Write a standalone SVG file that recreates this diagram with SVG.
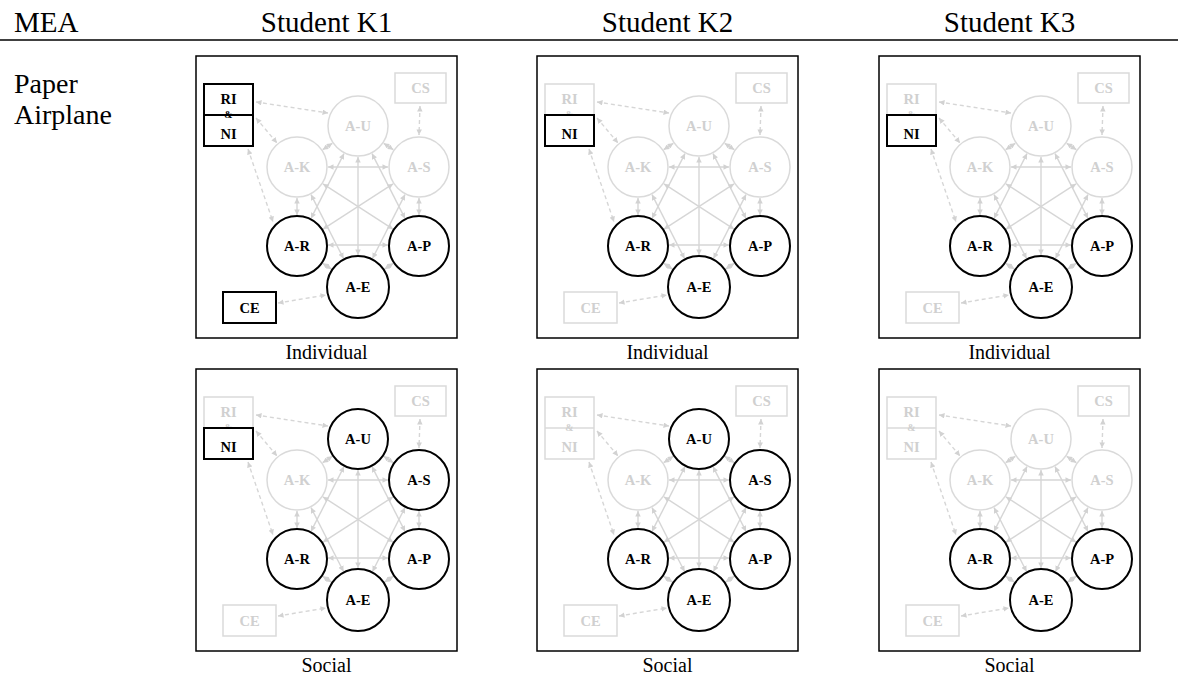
<svg xmlns="http://www.w3.org/2000/svg" xmlns:xlink="http://www.w3.org/1999/xlink" width="1178" height="680" viewBox="0 0 1178 680">
  <style>
    .hdr { font-family: "Liberation Serif", "Times New Roman", serif; font-size: 29px; fill: #000; }
    .row { font-family: "Liberation Serif", "Times New Roman", serif; font-size: 28px; fill: #000; }
    .cap { font-family: "Liberation Serif", "Times New Roman", serif; font-size: 20px; fill: #000; text-anchor: middle; }
    .frame { fill: #fff; stroke: #000; stroke-width: 1.5; }
    .lk { fill: none; stroke: #d6d6d6; stroke-width: 1.4; marker-start: url(#ah); marker-end: url(#ah); }
    .dash { stroke-dasharray: 4 3; }
    .off circle, .off rect { fill: #fff; stroke: #dadada; stroke-width: 1.5; }
    .off line { stroke: #dadada; stroke-width: 1.5; }
    .on circle, .on rect { fill: #fff; stroke: #000; stroke-width: 2; }
    .on line { stroke: #000; stroke-width: 2; }
    text.n { font-family: "Liberation Serif", "Times New Roman", serif; font-weight: bold; font-size: 14.5px; text-anchor: middle; }
    text.amp { font-size: 10px; }
    .off text { fill: #d0d0d0; }
    .on text { fill: #000; }
  </style>
  <defs>
    <marker id="ah" viewBox="0 0 10 10" refX="10" refY="5" markerWidth="6" markerHeight="5.5" markerUnits="userSpaceOnUse" orient="auto-start-reverse">
      <path d="M0,0 L10,5 L0,10 z" fill="#d2d2d2"/>
    </marker>
    <!-- shared link network of one panel (panel-local coordinates) -->
    <g id="links">
      <line class="lk" x1="136.3" y1="87.3" x2="126.7" y2="93.7"/>
      <line class="lk" x1="187.7" y1="87.3" x2="197.3" y2="93.7"/>
      <line class="lk" x1="101" y1="142" x2="101" y2="159"/>
      <line class="lk" x1="223" y1="142" x2="223" y2="159"/>
      <line class="lk" x1="126.7" y1="207.3" x2="135.4" y2="213.1"/>
      <line class="lk" x1="197.3" y1="207.3" x2="188.6" y2="213.1"/>
      <line class="lk" x1="132" y1="111" x2="192" y2="111"/>
      <line class="lk" x1="132" y1="189" x2="192" y2="189"/>
      <line class="lk" x1="162" y1="101" x2="162" y2="199"/>
      <line class="lk" x1="148" y1="97.6" x2="115" y2="162.4"/>
      <line class="lk" x1="176" y1="97.6" x2="209" y2="162.4"/>
      <line class="lk" x1="115" y1="138.6" x2="147.5" y2="202.5"/>
      <line class="lk" x1="209" y1="138.6" x2="176.5" y2="202.5"/>
      <line class="lk" x1="127" y1="127.9" x2="197" y2="173.1"/>
      <line class="lk" x1="197" y1="127.9" x2="127" y2="173.1"/>
      <line class="lk dash" x1="60" y1="46" x2="132" y2="57"/>
      <line class="lk dash" x1="60" y1="62" x2="81" y2="87"/>
      <line class="lk dash" x1="52" y1="93" x2="77" y2="166"/>
      <line class="lk dash" x1="82" y1="247" x2="130" y2="239"/>
      <line class="lk dash" x1="224" y1="50" x2="223" y2="79"/>
    </g>
  </defs>

  <!-- table header -->
  <text class="hdr" x="14" y="32">MEA</text>
  <text class="hdr" x="326.5" y="32" text-anchor="middle">Student K1</text>
  <text class="hdr" x="667.5" y="32" text-anchor="middle">Student K2</text>
  <text class="hdr" x="1009.5" y="32" text-anchor="middle">Student K3</text>
  <line x1="0" y1="40" x2="1178" y2="40" stroke="#000" stroke-width="1.6"/>
  <text class="row" x="14" y="93">Paper</text>
  <text class="row" x="14" y="124">Airplane</text>

  <!-- captions -->
  <text class="cap" x="326.5" y="359">Individual</text>
  <text class="cap" x="667.5" y="359">Individual</text>
  <text class="cap" x="1009.5" y="359">Individual</text>
  <text class="cap" x="326.5" y="672">Social</text>
  <text class="cap" x="667.5" y="672">Social</text>
  <text class="cap" x="1009.5" y="672">Social</text>

  <!-- K1 individual -->
  <g id="k1-ind" transform="translate(196,56)">
    <rect class="frame" x="0" y="0" width="261" height="282"/>
    <g id="k1-ind-links"><use xlink:href="#links"/></g>
    <g id="k1-ind-rini" class="on"><rect x="8" y="28" width="49" height="62"/><line x1="8" y1="59" x2="57" y2="59"/><text class="n" x="32.5" y="48">RI</text><text class="n amp" x="32.5" y="62">&amp;</text><text class="n" x="32.5" y="83">NI</text></g>
    <g id="k1-ind-cs" class="off"><rect x="199" y="17" width="51" height="30"/><text class="n" x="224.5" y="37">CS</text></g>
    <g id="k1-ind-ce" class="on"><rect x="27" y="236" width="53" height="31"/><text class="n" x="53.5" y="256.5">CE</text></g>
    <g id="k1-ind-au" class="off"><circle cx="162" cy="70" r="30"/><text class="n" x="162" y="75">A-U</text></g>
    <g id="k1-ind-ak" class="off"><circle cx="101" cy="111" r="30"/><text class="n" x="101" y="116">A-K</text></g>
    <g id="k1-ind-as" class="off"><circle cx="223" cy="111" r="30"/><text class="n" x="223" y="116">A-S</text></g>
    <g id="k1-ind-ar" class="on"><circle cx="101" cy="190" r="30"/><text class="n" x="101" y="195">A-R</text></g>
    <g id="k1-ind-ap" class="on"><circle cx="223" cy="190" r="30"/><text class="n" x="223" y="195">A-P</text></g>
    <g id="k1-ind-ae" class="on"><circle cx="162" cy="231" r="31"/><text class="n" x="162" y="236">A-E</text></g>
  </g>

  <!-- K2 individual -->
  <g id="k2-ind" transform="translate(537,56)">
    <rect class="frame" x="0" y="0" width="261" height="282"/>
    <g id="k2-ind-links"><use xlink:href="#links"/></g>
    <g id="k2-ind-ri" class="off"><rect x="8" y="28" width="49" height="31"/><text class="n" x="32.5" y="48">RI</text><text class="n amp" x="32.5" y="62">&amp;</text></g>
    <g id="k2-ind-ni" class="on"><rect x="8" y="59" width="49" height="31"/><text class="n" x="32.5" y="83">NI</text></g>
    <g id="k2-ind-cs" class="off"><rect x="199" y="17" width="51" height="30"/><text class="n" x="224.5" y="37">CS</text></g>
    <g id="k2-ind-ce" class="off"><rect x="27" y="236" width="53" height="31"/><text class="n" x="53.5" y="256.5">CE</text></g>
    <g id="k2-ind-au" class="off"><circle cx="162" cy="70" r="30"/><text class="n" x="162" y="75">A-U</text></g>
    <g id="k2-ind-ak" class="off"><circle cx="101" cy="111" r="30"/><text class="n" x="101" y="116">A-K</text></g>
    <g id="k2-ind-as" class="off"><circle cx="223" cy="111" r="30"/><text class="n" x="223" y="116">A-S</text></g>
    <g id="k2-ind-ar" class="on"><circle cx="101" cy="190" r="30"/><text class="n" x="101" y="195">A-R</text></g>
    <g id="k2-ind-ap" class="on"><circle cx="223" cy="190" r="30"/><text class="n" x="223" y="195">A-P</text></g>
    <g id="k2-ind-ae" class="on"><circle cx="162" cy="231" r="31"/><text class="n" x="162" y="236">A-E</text></g>
  </g>

  <!-- K3 individual -->
  <g id="k3-ind" transform="translate(879,56)">
    <rect class="frame" x="0" y="0" width="261" height="282"/>
    <g id="k3-ind-links"><use xlink:href="#links"/></g>
    <g id="k3-ind-ri" class="off"><rect x="8" y="28" width="49" height="31"/><text class="n" x="32.5" y="48">RI</text><text class="n amp" x="32.5" y="62">&amp;</text></g>
    <g id="k3-ind-ni" class="on"><rect x="8" y="59" width="49" height="31"/><text class="n" x="32.5" y="83">NI</text></g>
    <g id="k3-ind-cs" class="off"><rect x="199" y="17" width="51" height="30"/><text class="n" x="224.5" y="37">CS</text></g>
    <g id="k3-ind-ce" class="off"><rect x="27" y="236" width="53" height="31"/><text class="n" x="53.5" y="256.5">CE</text></g>
    <g id="k3-ind-au" class="off"><circle cx="162" cy="70" r="30"/><text class="n" x="162" y="75">A-U</text></g>
    <g id="k3-ind-ak" class="off"><circle cx="101" cy="111" r="30"/><text class="n" x="101" y="116">A-K</text></g>
    <g id="k3-ind-as" class="off"><circle cx="223" cy="111" r="30"/><text class="n" x="223" y="116">A-S</text></g>
    <g id="k3-ind-ar" class="on"><circle cx="101" cy="190" r="30"/><text class="n" x="101" y="195">A-R</text></g>
    <g id="k3-ind-ap" class="on"><circle cx="223" cy="190" r="30"/><text class="n" x="223" y="195">A-P</text></g>
    <g id="k3-ind-ae" class="on"><circle cx="162" cy="231" r="31"/><text class="n" x="162" y="236">A-E</text></g>
  </g>

  <!-- K1 social -->
  <g id="k1-soc" transform="translate(196,369)">
    <rect class="frame" x="0" y="0" width="261" height="282"/>
    <g id="k1-soc-links"><use xlink:href="#links"/></g>
    <g id="k1-soc-ri" class="off"><rect x="8" y="28" width="49" height="31"/><text class="n" x="32.5" y="48">RI</text><text class="n amp" x="32.5" y="62">&amp;</text></g>
    <g id="k1-soc-ni" class="on"><rect x="8" y="59" width="49" height="31"/><text class="n" x="32.5" y="83">NI</text></g>
    <g id="k1-soc-cs" class="off"><rect x="199" y="17" width="51" height="30"/><text class="n" x="224.5" y="37">CS</text></g>
    <g id="k1-soc-ce" class="off"><rect x="27" y="236" width="53" height="31"/><text class="n" x="53.5" y="256.5">CE</text></g>
    <g id="k1-soc-au" class="on"><circle cx="162" cy="70" r="30"/><text class="n" x="162" y="75">A-U</text></g>
    <g id="k1-soc-ak" class="off"><circle cx="101" cy="111" r="30"/><text class="n" x="101" y="116">A-K</text></g>
    <g id="k1-soc-as" class="on"><circle cx="223" cy="111" r="30"/><text class="n" x="223" y="116">A-S</text></g>
    <g id="k1-soc-ar" class="on"><circle cx="101" cy="190" r="30"/><text class="n" x="101" y="195">A-R</text></g>
    <g id="k1-soc-ap" class="on"><circle cx="223" cy="190" r="30"/><text class="n" x="223" y="195">A-P</text></g>
    <g id="k1-soc-ae" class="on"><circle cx="162" cy="231" r="31"/><text class="n" x="162" y="236">A-E</text></g>
  </g>

  <!-- K2 social -->
  <g id="k2-soc" transform="translate(537,369)">
    <rect class="frame" x="0" y="0" width="261" height="282"/>
    <g id="k2-soc-links"><use xlink:href="#links"/></g>
    <g id="k2-soc-rini" class="off"><rect x="8" y="28" width="49" height="62"/><line x1="8" y1="59" x2="57" y2="59"/><text class="n" x="32.5" y="48">RI</text><text class="n amp" x="32.5" y="62">&amp;</text><text class="n" x="32.5" y="83">NI</text></g>
    <g id="k2-soc-cs" class="off"><rect x="199" y="17" width="51" height="30"/><text class="n" x="224.5" y="37">CS</text></g>
    <g id="k2-soc-ce" class="off"><rect x="27" y="236" width="53" height="31"/><text class="n" x="53.5" y="256.5">CE</text></g>
    <g id="k2-soc-au" class="on"><circle cx="162" cy="70" r="30"/><text class="n" x="162" y="75">A-U</text></g>
    <g id="k2-soc-ak" class="off"><circle cx="101" cy="111" r="30"/><text class="n" x="101" y="116">A-K</text></g>
    <g id="k2-soc-as" class="on"><circle cx="223" cy="111" r="30"/><text class="n" x="223" y="116">A-S</text></g>
    <g id="k2-soc-ar" class="on"><circle cx="101" cy="190" r="30"/><text class="n" x="101" y="195">A-R</text></g>
    <g id="k2-soc-ap" class="on"><circle cx="223" cy="190" r="30"/><text class="n" x="223" y="195">A-P</text></g>
    <g id="k2-soc-ae" class="on"><circle cx="162" cy="231" r="31"/><text class="n" x="162" y="236">A-E</text></g>
  </g>

  <!-- K3 social -->
  <g id="k3-soc" transform="translate(879,369)">
    <rect class="frame" x="0" y="0" width="261" height="282"/>
    <g id="k3-soc-links"><use xlink:href="#links"/></g>
    <g id="k3-soc-rini" class="off"><rect x="8" y="28" width="49" height="62"/><line x1="8" y1="59" x2="57" y2="59"/><text class="n" x="32.5" y="48">RI</text><text class="n amp" x="32.5" y="62">&amp;</text><text class="n" x="32.5" y="83">NI</text></g>
    <g id="k3-soc-cs" class="off"><rect x="199" y="17" width="51" height="30"/><text class="n" x="224.5" y="37">CS</text></g>
    <g id="k3-soc-ce" class="off"><rect x="27" y="236" width="53" height="31"/><text class="n" x="53.5" y="256.5">CE</text></g>
    <g id="k3-soc-au" class="off"><circle cx="162" cy="70" r="30"/><text class="n" x="162" y="75">A-U</text></g>
    <g id="k3-soc-ak" class="off"><circle cx="101" cy="111" r="30"/><text class="n" x="101" y="116">A-K</text></g>
    <g id="k3-soc-as" class="off"><circle cx="223" cy="111" r="30"/><text class="n" x="223" y="116">A-S</text></g>
    <g id="k3-soc-ar" class="on"><circle cx="101" cy="190" r="30"/><text class="n" x="101" y="195">A-R</text></g>
    <g id="k3-soc-ap" class="on"><circle cx="223" cy="190" r="30"/><text class="n" x="223" y="195">A-P</text></g>
    <g id="k3-soc-ae" class="on"><circle cx="162" cy="231" r="31"/><text class="n" x="162" y="236">A-E</text></g>
  </g>
</svg>
